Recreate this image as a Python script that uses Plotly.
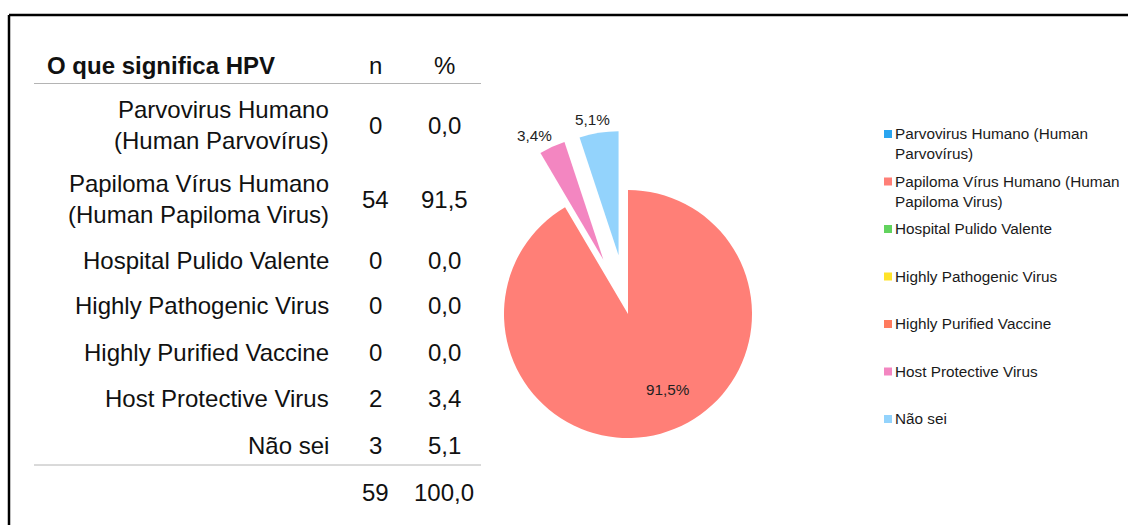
import math
import plotly.graph_objects as go

# ---------------- data ----------------
categories = [
    "Parvovirus Humano (Human Parvovírus)",
    "Papiloma Vírus Humano (Human Papiloma Virus)",
    "Hospital Pulido Valente",
    "Highly Pathogenic Virus",
    "Highly Purified Vaccine",
    "Host Protective Virus",
    "Não sei",
]
table_labels = [
    "Parvovirus Humano<br>(Human Parvovírus)",
    "Papiloma Vírus Humano<br>(Human Papiloma Virus)",
    "Hospital Pulido Valente",
    "Highly Pathogenic Virus",
    "Highly Purified Vaccine",
    "Host Protective Virus",
    "Não sei",
]
legend_labels = [
    "Parvovirus Humano (Human<br>Parvovírus)",
    "Papiloma Vírus Humano (Human<br>Papiloma Virus)",
    "Hospital Pulido Valente",
    "Highly Pathogenic Virus",
    "Highly Purified Vaccine",
    "Host Protective Virus",
    "Não sei",
]
counts = [0, 54, 0, 0, 0, 2, 3]
table_title = "O que significa HPV"
col_n = "n"
col_pct = "%"

colors = ["#2AA5F0", "#FF7F77", "#62D35E", "#FFE329", "#FF7B5E", "#F386C1", "#93D3FC"]

# ---------------- layout helpers ----------------
W, H = 1128, 525
FONT = "Liberation Sans, Helvetica, Arial, sans-serif"


def X(px):
    return px / W


def Y(py):
    return 1 - py / H


total = sum(counts)
pcts = [100 * c / total for c in counts]


def fmt(v):
    return f"{v:.1f}".replace(".", ",")


fig = go.Figure()
annotations = []
shapes = []

# ---------------- pie ----------------
cx, cy, r = 628, 314, 124
pull_amt = 0.48
pulls = [pull_amt if (c > 0 and c / total < 0.5) else 0 for c in counts]
half = r * (1 + max(pulls))

fig.add_trace(go.Pie(
    labels=categories,
    values=counts,
    sort=False,
    direction="clockwise",
    rotation=0,
    pull=pulls,
    marker=dict(colors=colors, line=dict(width=0)),
    textinfo="none",
    domain=dict(x=[X(cx - half), X(cx + half)], y=[Y(cy + half), Y(cy - half)]),
    showlegend=False,
    hoverinfo="label+value+percent",
))

# slice percentage labels, placed from each slice's angle (clockwise from 12 o'clock)
PFS = 15.3
cum = 0.0
for c, p, pl in zip(counts, pcts, pulls):
    frac = c / total
    mid = 2 * math.pi * (cum + frac / 2)
    cum += frac
    if c == 0:
        continue
    txt = f"{p:.1f}".replace(".", ",") + "%"
    if frac >= 0.5:
        a = mid - math.radians(12.5)
        d = 0.69 * r
        lx, ly = cx + d * math.sin(a), cy - d * math.cos(a)
    else:
        dx, dy = math.sin(mid), -math.cos(mid)
        d = r * (1 + pl) + 6
        lx, ly = cx + dx * d + dx * 36, cy + dy * d + dy * 7
    annotations.append(dict(text=txt, x=X(lx), y=Y(ly), xref="paper", yref="paper",
                            xanchor="center", yanchor="middle", showarrow=False, borderpad=0,
                            font=dict(family=FONT, size=PFS, color="#222222")))

# ---------------- table ----------------
TFS = 24
tcolor = "#111111"
label_right = 330
n_x = 375
pct_x = 444
header_y = 65
row_y = [125, 199, 260, 305, 352, 398, 445]
total_y = 492


def ann(text, x, y, xanchor="center", size=TFS, align="center", yanchor="middle"):
    annotations.append(dict(text=text, x=X(x), y=Y(y), xref="paper", yref="paper",
                            xanchor=xanchor, yanchor=yanchor, align=align, showarrow=False,
                            borderpad=0,
                            font=dict(family=FONT, size=size, color=tcolor)))


ann(f"<b>{table_title}</b>", 46, header_y, xanchor="left", align="left")
ann(col_n, n_x, header_y)
ann(col_pct, pct_x, header_y)

for lab, c, p, yy in zip(table_labels, counts, pcts, row_y):
    ann(lab, label_right, yy, xanchor="right", align="right")
    ann(str(c), n_x, yy)
    ann(fmt(p), pct_x, yy)

ann(str(total), n_x, total_y)
ann(fmt(sum(pcts)), pct_x, total_y)

for ly in (83.5, 465):
    shapes.append(dict(type="line", xref="paper", yref="paper", x0=X(34), x1=X(481), y0=Y(ly), y1=Y(ly),
                       line=dict(color="#B4B4B4", width=1)))

# ---------------- legend (custom) ----------------
LFS = 15.3
leg_x = 884
leg_y0 = 134
leg_step = 47.5
for i, (lab, col) in enumerate(zip(legend_labels, colors)):
    yc = leg_y0 + i * leg_step
    shapes.append(dict(type="rect", xref="paper", yref="paper",
                       x0=X(leg_x), x1=X(leg_x + 8), y0=Y(yc + 4), y1=Y(yc - 4),
                       fillcolor=col, line=dict(width=0)))
    annotations.append(dict(text=lab, x=X(leg_x + 10), y=Y(yc - 10), xref="paper", yref="paper",
                            xanchor="left", yanchor="top", align="left", showarrow=False, borderpad=0,
                            font=dict(family=FONT, size=LFS, color="#1a1a1a")))

# ---------------- frame ----------------
shapes.append(dict(type="line", xref="paper", yref="paper", x0=X(9), x1=X(W + 20), y0=Y(15), y1=Y(15),
                   line=dict(color="#000000", width=2.5)))
shapes.append(dict(type="line", xref="paper", yref="paper", x0=X(9), x1=X(9), y0=Y(15), y1=Y(H + 20),
                   line=dict(color="#000000", width=2.5)))

fig.update_layout(
    width=W, height=H,
    margin=dict(l=0, r=0, t=0, b=0, pad=0, autoexpand=False),
    paper_bgcolor="white",
    plot_bgcolor="white",
    separators=",.",
    showlegend=False,
    annotations=annotations,
    shapes=shapes,
    font=dict(family=FONT),
)

fig.write_html(
    "out.html",
    config={"responsive": False, "displayModeBar": False},
    post_script="document.body.style.margin='0';document.body.style.overflow='hidden';",
)
